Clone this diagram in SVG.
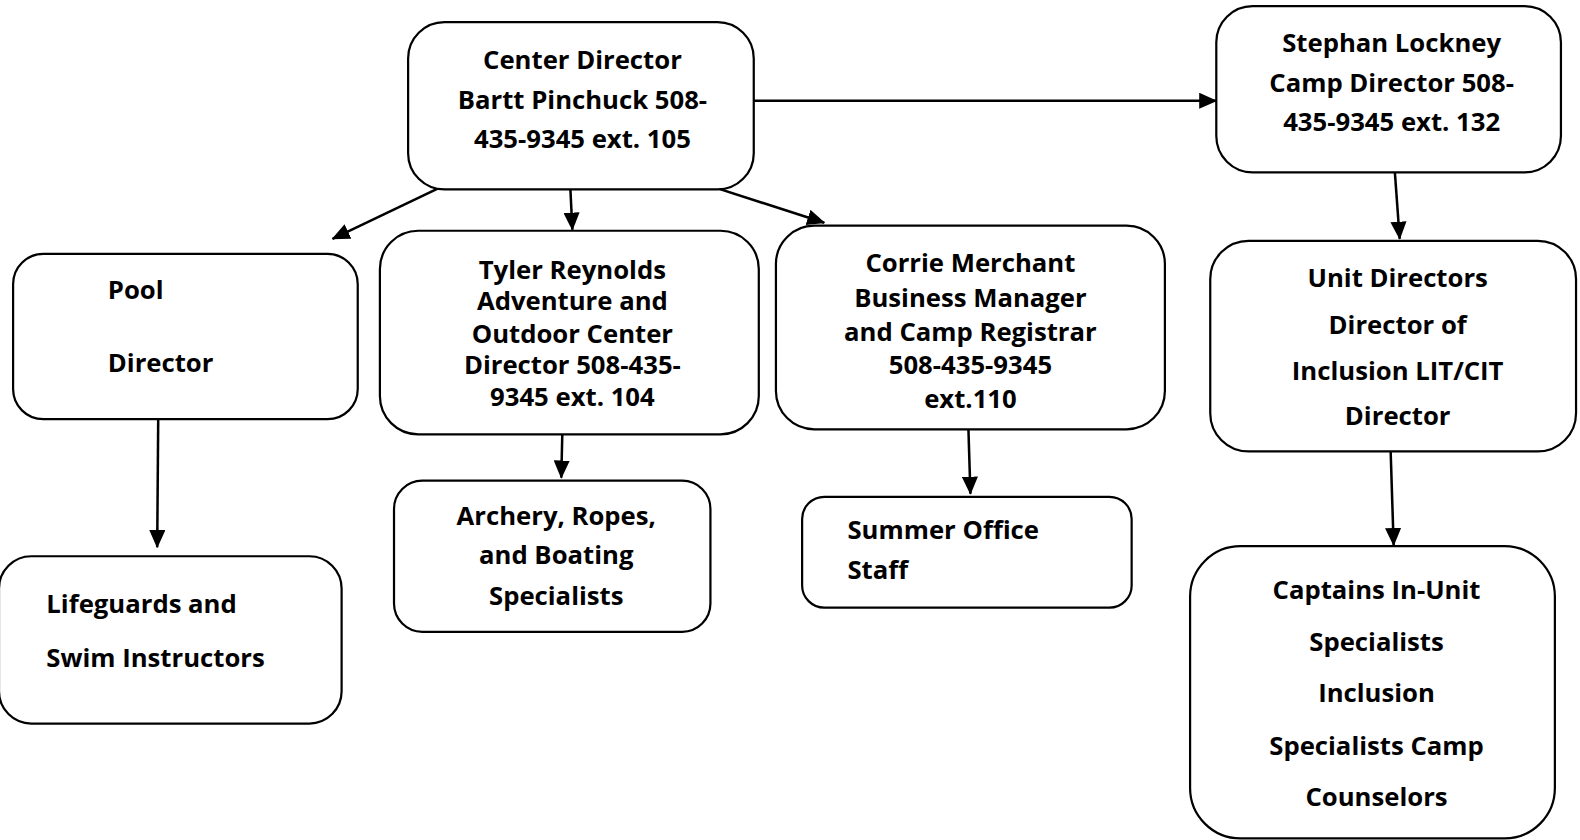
<svg xmlns="http://www.w3.org/2000/svg" width="1580" height="840" viewBox="0 0 1580 840">
<defs>
<marker id="ah" markerUnits="userSpaceOnUse" markerWidth="18" markerHeight="16" refX="17" refY="8" orient="auto">
<path d="M0,0 L18,8 L0,16 Z" fill="#000"/>
</marker>
<style>
.box{fill:#fff;stroke:#000;stroke-width:2.2}
.t{font-family:"Open Sans","Noto Sans","Liberation Sans",sans-serif;font-weight:bold;font-size:25.5px;fill:#000}
.c{text-anchor:middle}
.e{stroke:#000;stroke-width:2.5;fill:none;marker-end:url(#ah)}
</style>
</defs>
<rect width="1580" height="840" fill="#fff"/>
<g transform="scale(1.0077)">
<g id="connectors">
<line class="e" x1="748" y1="100" x2="1207" y2="100"/>
<line class="e" x1="439" y1="185" x2="330" y2="237"/>
<line class="e" x1="566" y1="187" x2="568" y2="228"/>
<line class="e" x1="706" y1="185" x2="818" y2="221"/>
<line class="e" x1="1384" y1="168" x2="1389" y2="237"/>
<line class="e" x1="157" y1="416" x2="156" y2="543"/>
<line class="e" x1="558" y1="431" x2="557" y2="474"/>
<line class="e" x1="961" y1="425" x2="963" y2="490"/>
<line class="e" x1="1380" y1="447" x2="1383" y2="541"/>
</g>
<g id="center-director">
<rect class="box" x="405" y="22" width="343" height="166" rx="36"/>
<text class="t c"><tspan x="578" y="68">Center Director</tspan><tspan x="578" y="108">Bartt Pinchuck 508-</tspan><tspan x="578" y="147">435-9345 ext. 105</tspan></text>
</g>
<g id="camp-director">
<rect class="box" x="1207" y="6" width="342" height="165" rx="36"/>
<text class="t c"><tspan x="1381" y="52">Stephan Lockney</tspan><tspan x="1381" y="91">Camp Director 508-</tspan><tspan x="1381" y="130">435-9345 ext. 132</tspan></text>
</g>
<g id="pool-director">
<rect class="box" x="13" y="252" width="342" height="164" rx="30"/>
<text class="t"><tspan x="107" y="297">Pool</tspan><tspan x="107" y="369">Director</tspan></text>
</g>
<g id="adventure-director">
<rect class="box" x="377" y="229" width="376" height="202" rx="38"/>
<text class="t c"><tspan x="568" y="277">Tyler Reynolds</tspan><tspan x="568" y="308">Adventure and</tspan><tspan x="568" y="340">Outdoor Center</tspan><tspan x="568" y="371">Director 508-435-</tspan><tspan x="568" y="403">9345 ext. 104</tspan></text>
</g>
<g id="business-manager">
<rect class="box" x="770" y="224" width="386" height="202" rx="38"/>
<text class="t c"><tspan x="963" y="270">Corrie Merchant</tspan><tspan x="963" y="305">Business Manager</tspan><tspan x="963" y="338">and Camp Registrar</tspan><tspan x="963" y="371">508-435-9345</tspan><tspan x="963" y="405">ext.110</tspan></text>
</g>
<g id="unit-directors">
<rect class="box" x="1201" y="239" width="363" height="209" rx="38"/>
<text class="t c"><tspan x="1387" y="285">Unit Directors</tspan><tspan x="1387" y="331">Director of</tspan><tspan x="1387" y="377">Inclusion LIT/CIT</tspan><tspan x="1387" y="422">Director</tspan></text>
</g>
<g id="lifeguards">
<rect class="box" x="-1" y="552" width="340" height="166" rx="32"/>
<text class="t"><tspan x="46" y="608">Lifeguards and</tspan><tspan x="46" y="662">Swim Instructors</tspan></text>
</g>
<g id="archery">
<rect class="box" x="391" y="477" width="314" height="150" rx="28"/>
<text class="t c"><tspan x="552" y="521">Archery, Ropes,</tspan><tspan x="552" y="560">and Boating</tspan><tspan x="552" y="600">Specialists</tspan></text>
</g>
<g id="summer-office">
<rect class="box" x="796" y="493" width="327" height="110" rx="22"/>
<text class="t"><tspan x="841" y="535">Summer Office</tspan><tspan x="841" y="575">Staff</tspan></text>
</g>
<g id="captains">
<rect class="box" x="1181" y="542" width="362" height="290" rx="50"/>
<text class="t c"><tspan x="1366" y="594">Captains In-Unit</tspan><tspan x="1366" y="646">Specialists</tspan><tspan x="1366" y="697">Inclusion</tspan><tspan x="1366" y="749">Specialists Camp</tspan><tspan x="1366" y="800">Counselors</tspan></text>
</g>
</g>
</svg>
